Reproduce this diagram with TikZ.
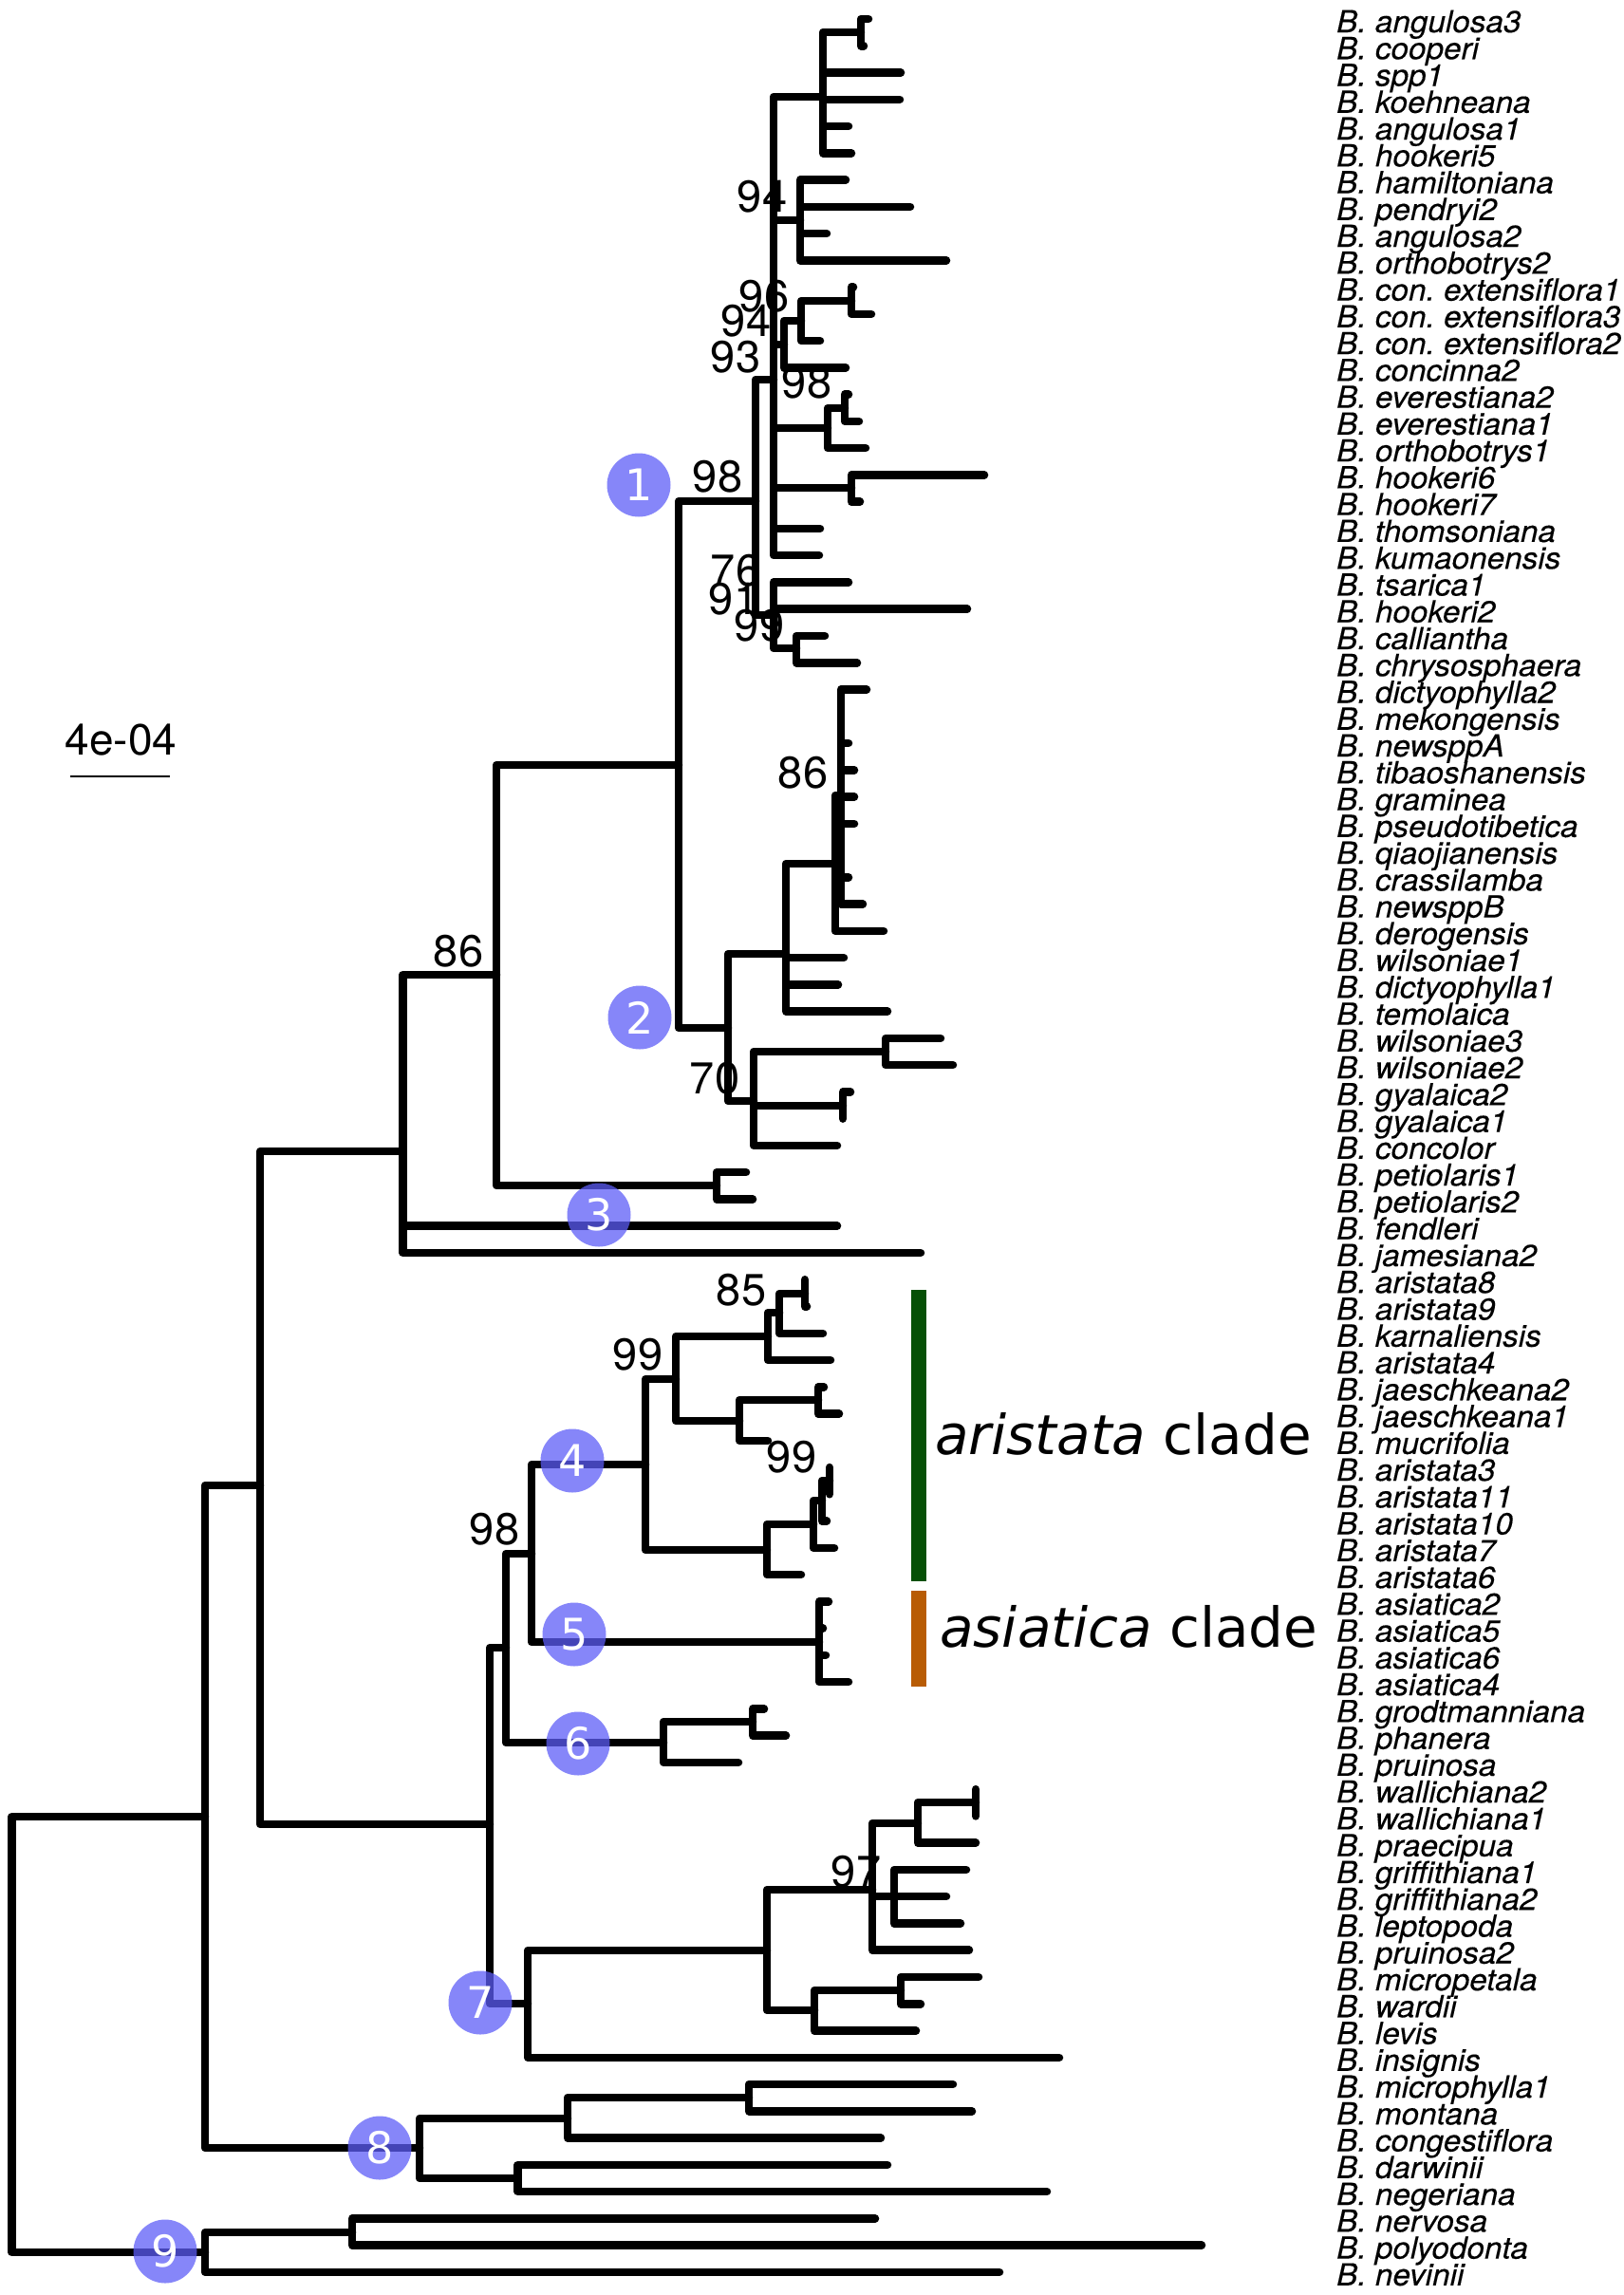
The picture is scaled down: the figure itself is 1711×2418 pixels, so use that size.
\documentclass[tikz,border=0pt]{standalone}
\usepackage{fontspec}
\setmainfont[ItalicFeatures={FakeBold=0.25}]{TeX Gyre Heros}
\newfontfamily\badgefont{DejaVu Sans}
\frenchspacing
\definecolor{badgeblue}{rgb}{0.36,0.36,0.97}
\definecolor{aristatagreen}{HTML}{065006}
\definecolor{asiaticaorange}{HTML}{B85C05}
\tikzstyle{branch}=[draw=black,
                line width=8.5pt,
                line cap=round,
                line join=round]
\tikzstyle{taxon}=[anchor=base west,
                inner sep=0pt,
                font=\fontsize{32}{32}\selectfont\itshape]
\tikzstyle{support}=[anchor=base,
                inner sep=0pt,
                font=\fontsize{47}{47}\selectfont]
\tikzstyle{badge}=[shape=circle,
                fill=badgeblue,
                fill opacity=0.74,
                text opacity=1,
                text=white,
                minimum size=67pt,
                inner sep=0pt,
                font=\badgefont\fontsize{46}{46}\selectfont]
\tikzstyle{cladename}=[anchor=base west,
                inner sep=0pt,
                font=\badgefont\fontsize{58}{58}\selectfont]
\tikzstyle{scalename}=[anchor=base,
                inner sep=0pt,
                font=\fontsize{46}{46}\selectfont]
\begin{document}
\begin{tikzpicture}[x=1pt,y=-1pt]
\useasboundingbox (0,0) rectangle (1711,2418);

% tips, row by row
\foreach \xe/\name [count=\i] in {
  915/angulosa3,910/cooperi,949/spp1,948/koehneana,894/angulosa1,897/hookeri5,
  891/hamiltoniana,959/pendryi2,871/angulosa2,997/orthobotrys2,
  899/con. extensiflora1,918/con. extensiflora3,864/con. extensiflora2,891/concinna2,
  894/everestiana2,905/everestiana1,912/orthobotrys1,1037/hookeri6,906/hookeri7,
  864/thomsoniana,863/kumaonensis,894/tsarica1,1019/hookeri2,869/calliantha,903/chrysosphaera,
  913/dictyophylla2,886/mekongensis,894/newsppA,900/tibaoshanensis,900/graminea,
  900/pseudotibetica,886/qiaojianensis,894/crassilamba,909/newsppB,931/derogensis,
  889/wilsoniae1,883/dictyophylla1,935/temolaica,991/wilsoniae3,1004/wilsoniae2,
  896/gyalaica2,888/gyalaica1,882/concolor,786/petiolaris1,793/petiolaris2,
  882/fendleri,970/jamesiana2,848/aristata8,850/aristata9,867/karnaliensis,875/aristata4,
  868/jaeschkeana2,884/jaeschkeana1,809/mucrifolia,874/aristata3,874/aristata11,
  871/aristata10,879/aristata7,844/aristata6,873/asiatica2,867/asiatica5,870/asiatica6,
  894/asiatica4,805/grodtmanniana,828/phanera,778/pruinosa,1028/wallichiana2,1028/wallichiana1,
  1028/praecipua,1018/griffithiana1,997/griffithiana2,1012/leptopoda,1021/pruinosa2,
  1031/micropetala,970/wardii,965/levis,1116/insignis,1004/microphylla1,1024/montana,
  928/congestiflora,935/darwinii,1103/negeriana,922/nervosa,1266/polyodonta,1053/nevinii}{
  \pgfmathsetmacro\rowy{20+28.26*(\i-1)}
  \coordinate (t\i) at (\xe,\rowy);
  \node[taxon,xscale=1.04,transform shape] (lab\i) at (1408,{\rowy+14}) {B. \name};
}

% inner nodes of the tree
\coordinate (root) at (12.5,2143);
\coordinate (a1) at (216,1914);
\coordinate (a2) at (274,1565);
\coordinate (a3) at (424.5,1213);
\coordinate (a4) at (523,1027);
\coordinate (a5) at (715,806);
\coordinate (a6) at (516,1922);
\coordinate (pet) at (755,1249);
\coordinate (b0) at (796,528);
\coordinate (q) at (815,400);
\coordinate (r) at (815,648);
\coordinate (r1) at (839,683);
\coordinate (ca) at (867,102);
\coordinate (ca1) at (907,34);
\coordinate (cb) at (843,232);
\coordinate (cc) at (826,363);
\coordinate (cc1) at (844,338);
\coordinate (cc2) at (897,317);
\coordinate (cd) at (872,451);
\coordinate (cd1) at (890,430);
\coordinate (ce) at (897,514);
\coordinate (d0) at (767,1083);
\coordinate (u) at (828,1005);
\coordinate (w) at (880,910);
\coordinate (w1) at (886,838);
\coordinate (v) at (794,1160);
\coordinate (v1) at (933,1108);
\coordinate (v2) at (888,1165);
\coordinate (m) at (533,1736);
\coordinate (l) at (560,1637);
\coordinate (k) at (680,1543);
\coordinate (k1) at (712,1453);
\coordinate (k2) at (779,1497);
\coordinate (k3) at (862,1475);
\coordinate (k4) at (809,1408);
\coordinate (k5) at (821,1383);
\coordinate (k6) at (848,1363);
\coordinate (j1) at (808,1633);
\coordinate (j2) at (857,1606);
\coordinate (j3) at (866,1581);
\coordinate (j4) at (874,1560);
\coordinate (as) at (863,1730);
\coordinate (p6) at (699,1836);
\coordinate (p7) at (793,1814);
\coordinate (f) at (556,2111);
\coordinate (g) at (808,2055);
\coordinate (g1) at (919,1991);
\coordinate (g2) at (967,1921);
\coordinate (g3) at (1028,1899);
\coordinate (g4) at (942,1998);
\coordinate (g5) at (858,2118);
\coordinate (g6) at (949,2097);
\coordinate (n8) at (442,2263);
\coordinate (n81) at (598,2232);
\coordinate (n82) at (789,2210);
\coordinate (n83) at (545.5,2295);
\coordinate (n9) at (216,2373);
\coordinate (n91) at (371,2352);

% branches
\foreach \a/\b in {root/a1,root/n9,a1/a2,a1/n8,a2/a3,a2/a6,a3/a4,a3/t46,a3/t47,a4/a5,a4/pet,
  pet/t44,pet/t45,a5/b0,a5/d0,b0/q,b0/r,
  q/ca,q/cb,q/cc,q/cd,q/ce,q/t20,q/t21,
  ca/ca1,ca/t3,ca/t4,ca/t5,ca/t6,ca1/t1,ca1/t2,
  cb/t7,cb/t8,cb/t9,cb/t10,
  cc/cc1,cc/t14,cc1/cc2,cc1/t13,cc2/t11,cc2/t12,
  cd/cd1,cd/t17,cd1/t15,cd1/t16,ce/t18,ce/t19,
  r/t22,r/t23,r/r1,r1/t24,r1/t25,
  d0/u,d0/v,u/w,u/t36,u/t37,u/t38,w/w1,w/t35,
  w1/t26,w1/t27,w1/t28,w1/t29,w1/t30,w1/t31,w1/t32,w1/t33,w1/t34,
  v/v1,v/v2,v/t43,v1/t39,v1/t40,v2/t41,v2/t42,
  a6/m,a6/f,m/l,m/p6,l/k,l/as,k/k1,k/j1,k1/k4,k1/k2,
  k4/k5,k4/t51,k5/k6,k5/t50,k6/t48,k6/t49,k2/k3,k2/t54,k3/t52,k3/t53,
  j1/j2,j1/t59,j2/j3,j2/t58,j3/j4,j3/t57,j4/t55,j4/t56,
  as/t60,as/t61,as/t62,as/t63,p6/p7,p6/t66,p7/t64,p7/t65,
  f/g,f/t77,g/g1,g/g5,g1/g2,g1/g4,g1/t73,g2/g3,g2/t69,g3/t67,g3/t68,
  g4/t70,g4/t71,g4/t72,g5/g6,g5/t76,g6/t74,g6/t75,
  n8/n81,n8/n83,n81/n82,n81/t80,n82/t78,n82/t79,n83/t81,n83/t82,
  n9/n91,n9/t85,n91/t83,n91/t84}{
  \draw[branch] (\a) |- (\b);
}

% support values
\node[support] (s1)  at (803,223)  {94};
\node[support] (s2)  at (805,328)  {96};
\node[support] (s3)  at (786,354)  {94};
\node[support] (s4)  at (775,392)  {93};
\node[support] (s5)  at (850,419)  {98};
\node[support] (s6)  at (756,518)  {98};
\node[support] (s7)  at (775,617)  {76};
\node[support] (s8)  at (773,647)  {91};
\node[support] (s9)  at (800,675)  {99};
\node[support] (s10) at (846,830)  {86};
\node[support] (s11) at (483,1018) {86};
\node[support] (s12) at (753,1152) {70};
\node[support] (s13) at (781,1375) {85};
\node[support] (s14) at (672,1443) {99};
\node[support] (s15) at (834,1551) {99};
\node[support] (s16) at (521,1627) {98};
\node[support] (s17) at (902,1988) {97};

% numbered clades
\node[badge] (c1) at (673,511)  {1};
\node[badge] (c2) at (674,1072) {2};
\node[badge] (c3) at (631,1280) {3};
\node[badge] (c4) at (603,1539) {4};
\node[badge] (c5) at (605,1722) {5};
\node[badge] (c6) at (609,1837) {6};
\node[badge] (c7) at (506,2110) {7};
\node[badge] (c8) at (400,2263) {8};
\node[badge] (c9) at (174,2372) {9};

% clade bars
\fill[aristatagreen] (959.5,1359) rectangle (976,1666);
\fill[asiaticaorange] (959.5,1676) rectangle (976,1777);
\node[cladename] (aris) at (985,1532) {\textit{aristata} clade};
\node[cladename] (asia) at (990,1735) {\textit{asiatica} clade};

% scale
\node[scalename] (sc) at (127.5,795) {4e-04};
\coordinate (sc1) at (74,818);
\coordinate (sc2) at (179,818);
\draw[line width=2.5pt] (sc1) -- (sc2);
\end{tikzpicture}
\end{document}
